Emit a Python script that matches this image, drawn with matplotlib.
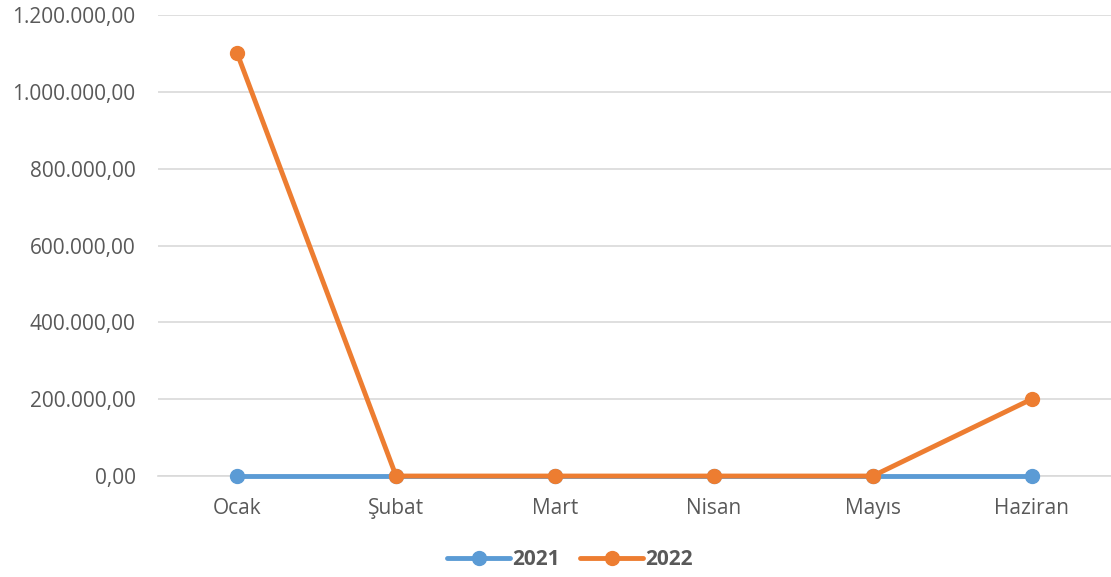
import matplotlib
matplotlib.use("Agg")
import matplotlib.pyplot as plt
from matplotlib.ticker import FuncFormatter

# Data
months = ["Ocak", "Şubat", "Mart", "Nisan", "Mayıs", "Haziran"]
values_2021 = [0, 0, 0, 0, 0, 0]
values_2022 = [1100000, 0, 0, 0, 0, 200000]
y_ticks = [0, 200000, 400000, 600000, 800000, 1000000, 1200000]

text_color = "#595959"
grid_color = "#D9D9D9"

plt.rcParams['font.family'] = ['Open Sans', 'DejaVu Sans']

fig = plt.figure(figsize=(11.11, 5.77), dpi=100)
ax = fig.add_axes([0.142, 0.175, 0.858, 0.799])

x = list(range(len(months)))
ax.plot(x, values_2021, color="#5B9BD5", linewidth=3.5, marker="o",
        markersize=10, label="2021", solid_capstyle="round", zorder=3)
ax.plot(x, values_2022, color="#ED7D31", linewidth=3.5, marker="o",
        markersize=10, label="2022", solid_capstyle="round", zorder=4)

def tr_format(v, pos):
    s = f"{v:,.2f}"
    return s.replace(",", "X").replace(".", ",").replace("X", ".")

ax.set_xlim(-0.5, 5.5)
ax.set_ylim(0, 1200000)
ax.set_yticks(y_ticks)
ax.yaxis.set_major_formatter(FuncFormatter(tr_format))
ax.set_xticks(x)
ax.set_xticklabels(months)

ax.grid(axis='y', color=grid_color, linewidth=1.2)
ax.set_axisbelow(True)
for side in ["top", "right", "left"]:
    ax.spines[side].set_visible(False)
ax.spines["bottom"].set_color(grid_color)
ax.spines["bottom"].set_linewidth(1.2)
ax.tick_params(axis='both', length=0, labelsize=15, labelcolor=text_color)
ax.tick_params(axis='y', pad=16)
ax.tick_params(axis='x', pad=16)
for line in ax.lines:
    line.set_clip_on(False)

leg = fig.legend(loc="center", bbox_to_anchor=(0.513, 0.03), ncol=2,
                 frameon=False, handlelength=3.0, columnspacing=1.0,
                 handletextpad=0.1, prop={'weight': 'bold', 'size': 15})
for t in leg.get_texts():
    t.set_color(text_color)

fig.savefig("out.png", dpi=100)
